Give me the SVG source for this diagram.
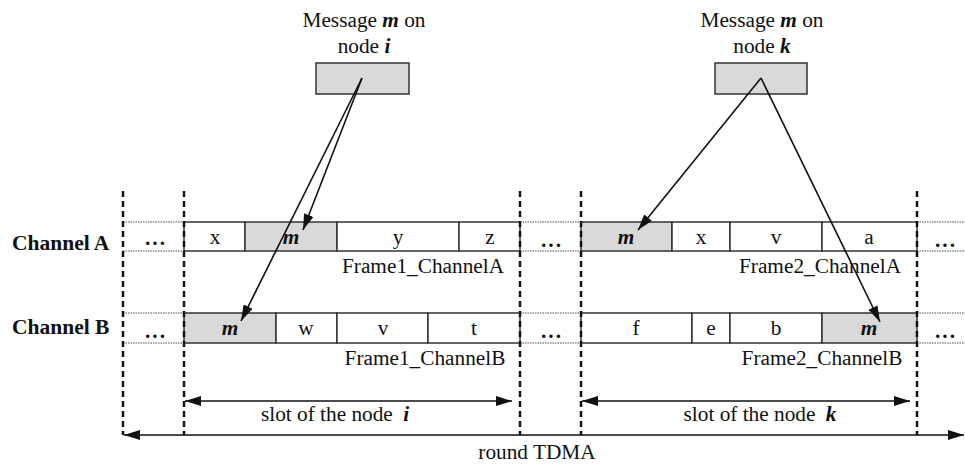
<svg xmlns="http://www.w3.org/2000/svg" width="965" height="465" viewBox="0 0 965 465">
<style>
text{font-family:"Liberation Serif","Times New Roman",serif;fill:#111}
.t{font-size:21.3px;text-anchor:middle}
.lbl{font-size:21.5px;font-weight:bold}
.bi{font-weight:bold;font-style:italic}
.cell{fill:#fff;stroke:#333;stroke-width:1.5}
.g{fill:#d9d9d9;stroke:#333;stroke-width:1.5}
.dot{fill:none;stroke:#888;stroke-width:1.5;stroke-dasharray:1.5 1}
.dash{stroke:#111;stroke-width:2.5;stroke-dasharray:6 4;fill:none}
.arr{stroke:#111;stroke-width:1.6;fill:none}
.dd{font-size:21.3px;text-anchor:middle;letter-spacing:2px;font-weight:bold}
</style>
<defs>
<marker id="ah" viewBox="0 0 16 10" refX="16" refY="5" markerWidth="16" markerHeight="10" markerUnits="userSpaceOnUse" orient="auto-start-reverse">
<path d="M0,0 L16,5 L0,10 Z" fill="#111"/>
</marker>
</defs>
<g id="labels">
<text class="lbl" x="12" y="250">Channel A</text>
<text class="lbl" x="12" y="334">Channel B</text>
</g>
<g id="msg-i">
<text class="t" x="364" y="27">Message <tspan class="bi">m</tspan> on</text>
<text class="t" x="364" y="53">node <tspan class="bi">i</tspan></text>
<rect class="g" x="316" y="63" width="93" height="31"/>
</g>
<g id="msg-k">
<text class="t" x="762" y="27">Message <tspan class="bi">m</tspan> on</text>
<text class="t" x="762" y="53">node <tspan class="bi">k</tspan></text>
<rect class="g" x="715" y="63" width="92" height="31"/>
</g>
<g id="channelA">
<path class="dot" d="M123,222 H184 M123,251 H184 M520,222 H581 M520,251 H581 M917,222 H965 M917,251 H965"/>
<rect class="cell" x="184" y="222" width="61" height="29"/>
<rect class="g" x="245" y="222" width="92" height="29"/>
<rect class="cell" x="337" y="222" width="122" height="29"/>
<rect class="cell" x="459" y="222" width="61" height="29"/>
<rect class="g" x="581" y="222" width="91" height="29"/>
<rect class="cell" x="672" y="222" width="58" height="29"/>
<rect class="cell" x="730" y="222" width="92" height="29"/>
<rect class="cell" x="822" y="222" width="95" height="29"/>
<text class="dd" x="156" y="245">...</text>
<text class="t" x="215" y="244">x</text>
<text class="t bi" x="291" y="244">m</text>
<text class="t" x="398" y="244">y</text>
<text class="t" x="490" y="244">z</text>
<text class="dd" x="552" y="247">...</text>
<text class="t bi" x="626" y="244">m</text>
<text class="t" x="701" y="244">x</text>
<text class="t" x="776" y="244">v</text>
<text class="t" x="869" y="244">a</text>
<text class="dd" x="946" y="247">...</text>
<text class="t" x="423" y="273">Frame1_ChannelA</text>
<text class="t" x="820" y="273">Frame2_ChannelA</text>
</g>
<g id="channelB">
<path class="dot" d="M123,313 H184 M123,343 H184 M520,313 H581 M520,343 H581 M917,313 H965 M917,343 H965"/>
<rect class="g" x="184" y="313" width="92" height="30"/>
<rect class="cell" x="276" y="313" width="61" height="30"/>
<rect class="cell" x="337" y="313" width="91" height="30"/>
<rect class="cell" x="428" y="313" width="92" height="30"/>
<rect class="cell" x="581" y="313" width="111" height="30"/>
<rect class="cell" x="692" y="313" width="38" height="30"/>
<rect class="cell" x="730" y="313" width="92" height="30"/>
<rect class="g" x="822" y="313" width="95" height="30"/>
<text class="dd" x="156" y="338">...</text>
<text class="t bi" x="230" y="335">m</text>
<text class="t" x="306" y="335">w</text>
<text class="t" x="383" y="335">v</text>
<text class="t" x="474" y="335">t</text>
<text class="dd" x="552" y="338">...</text>
<text class="t" x="636" y="335">f</text>
<text class="t" x="711" y="335">e</text>
<text class="t" x="776" y="335">b</text>
<text class="t bi" x="869" y="335">m</text>
<text class="dd" x="946" y="338">...</text>
<text class="t" x="425" y="365">Frame1_ChannelB</text>
<text class="t" x="822" y="365">Frame2_ChannelB</text>
</g>
<g id="bounds">
<line class="dash" x1="123" y1="191" x2="123" y2="435"/>
<line class="dash" x1="184" y1="191" x2="184" y2="435"/>
<line class="dash" x1="520" y1="191" x2="520" y2="435"/>
<line class="dash" x1="581" y1="191" x2="581" y2="435"/>
<line class="dash" x1="917" y1="191" x2="917" y2="435"/>
</g>
<g id="connectors">
<line class="arr" x1="362" y1="78" x2="303" y2="230" marker-end="url(#ah)"/>
<line class="arr" x1="362" y1="78" x2="241" y2="321" marker-end="url(#ah)"/>
<line class="arr" x1="761" y1="78" x2="638" y2="230" marker-end="url(#ah)"/>
<line class="arr" x1="761" y1="78" x2="880" y2="322" marker-end="url(#ah)"/>
<line class="arr" x1="185" y1="401" x2="512" y2="401" marker-start="url(#ah)" marker-end="url(#ah)"/>
<line class="arr" x1="582" y1="401" x2="910" y2="401" marker-start="url(#ah)" marker-end="url(#ah)"/>
<line class="arr" x1="124" y1="435" x2="964" y2="435" marker-start="url(#ah)" marker-end="url(#ah)"/>
</g>
<g id="dims">
<text class="t" x="335" y="421">slot of the node <tspan class="bi" dx="5">i</tspan></text>
<text class="t" x="760" y="421">slot of the node <tspan class="bi" dx="5">k</tspan></text>
<text class="t" x="537" y="459">round TDMA</text>
</g>
</svg>
